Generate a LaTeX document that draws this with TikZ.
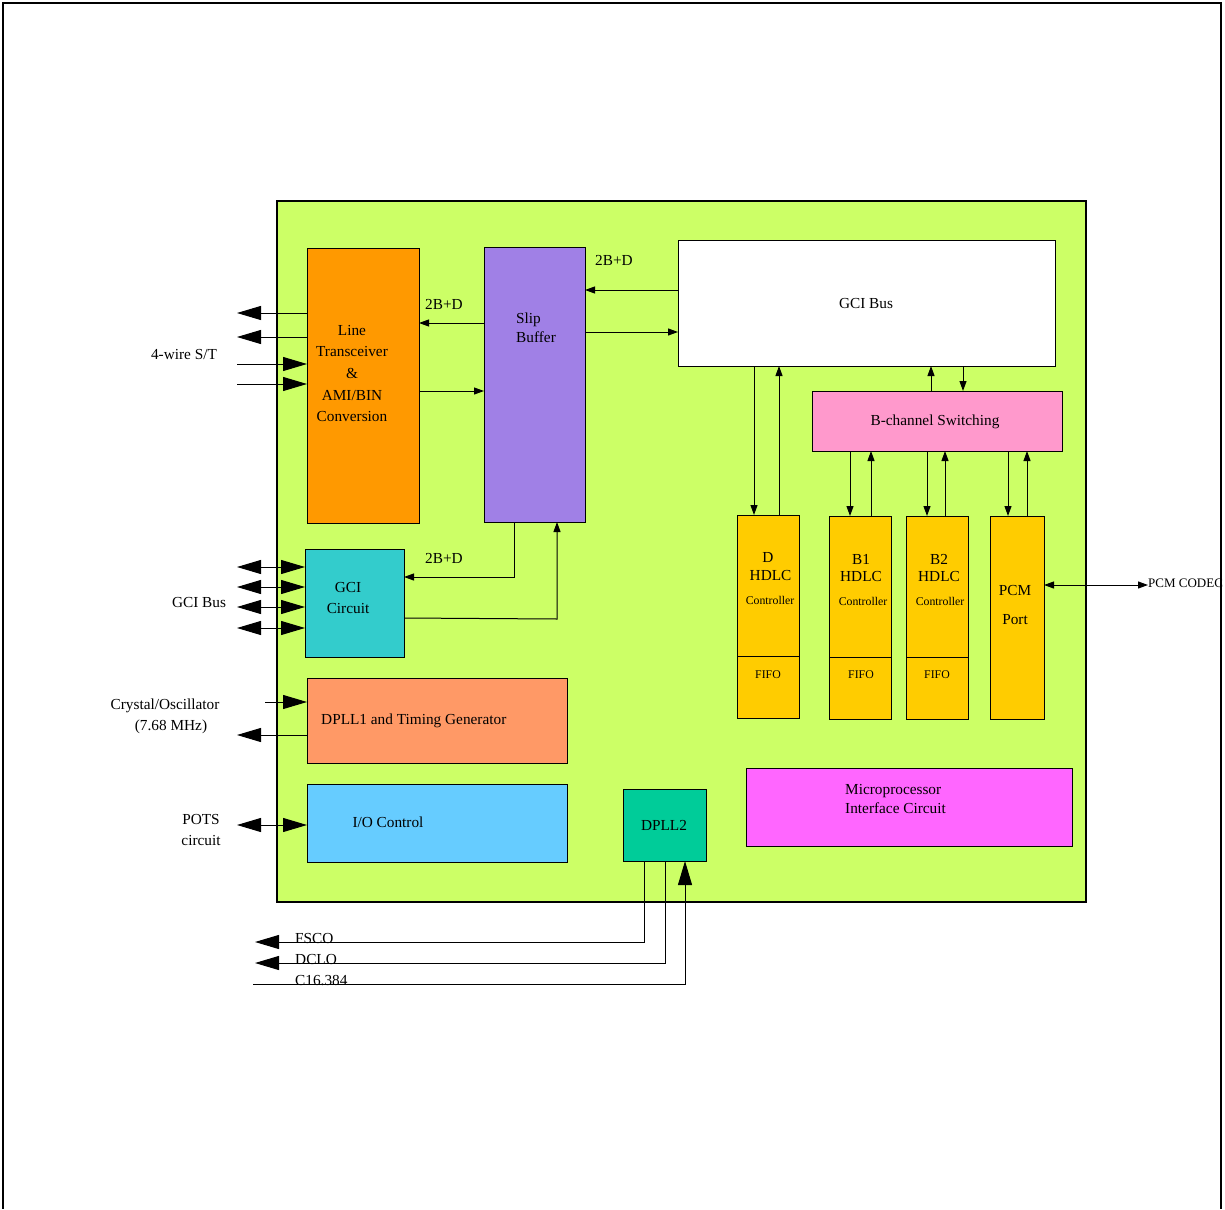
\documentclass[tikz,border=0pt]{standalone}
\usepackage{fontspec}
\setmainfont{Liberation Serif}
\usetikzlibrary{arrows.meta}
\definecolor{cgreen}{HTML}{CCFF66}
\definecolor{corange}{HTML}{FF9900}
\definecolor{cpurple}{HTML}{A080E6}
\definecolor{cpink}{HTML}{FF99CC}
\definecolor{cyellow}{HTML}{FFCC00}
\definecolor{cteal}{HTML}{33CCCC}
\definecolor{csalmon}{HTML}{FF9966}
\definecolor{cblue}{HTML}{66CCFF}
\definecolor{cdpll}{HTML}{00CC99}
\definecolor{cmag}{HTML}{FF66FF}
\tikzset{
  blk/.style={draw=black, line width=1pt, inner sep=0pt, outer sep=0pt, rectangle},
  txt/.style={inner sep=0pt, font=\fontsize{15.3}{21.7}\selectfont, align=center},
  stxt/.style={inner sep=0pt, font=\fontsize{11.8}{14}\selectfont, align=center},
  con/.style={line width=1pt},
  bigA/.style={-{Triangle[length=24pt,width=14pt]}},
  bigAB/.style={{Triangle[length=24pt,width=14pt]}-{Triangle[length=24pt,width=14pt]}},
  smA/.style={-{Triangle[length=10pt,width=7pt]}},
  smAB/.style={{Triangle[length=10pt,width=7pt]}-{Triangle[length=10pt,width=7pt]}},
}
\begin{document}
\begin{tikzpicture}[x=1pt,y=-1pt]
\useasboundingbox (0,0) rectangle (1225,1209);
% outer frame
\draw[line width=2.2pt] (2,3) -- (1222,3);
\draw[line width=1.3pt] (3,3) -- (3,1209);
\draw[line width=1.3pt] (1221,3) -- (1221,1209);
% chip
\node[blk, fill=cgreen, line width=1.3pt, minimum width=809pt, minimum height=701pt] (chip) at (681.5,551.5) {};
% blocks
\node[blk, fill=corange, minimum width=112pt, minimum height=275pt] (lt) at (363,385.5) {};
\node[blk, fill=cpurple, minimum width=101pt, minimum height=275pt] (sb) at (534.5,384.5) {};
\node[blk, fill=white, minimum width=377pt, minimum height=126pt] (gb) at (866.5,303) {};
\node[blk, fill=cpink, minimum width=250pt, minimum height=60pt] (bs) at (937,421) {};
\node[blk, fill=cyellow, minimum width=62pt, minimum height=203pt] (dh) at (768,616.5) {};
\node[blk, fill=cyellow, minimum width=62pt, minimum height=203pt] (b1) at (860,617.5) {};
\node[blk, fill=cyellow, minimum width=62pt, minimum height=203pt] (b2) at (937,617.5) {};
\node[blk, fill=cyellow, minimum width=54pt, minimum height=203pt] (pcm) at (1017,617.5) {};
\node[blk, fill=cteal, minimum width=99pt, minimum height=108pt] (gc) at (354.5,603) {};
\node[blk, fill=csalmon, minimum width=260pt, minimum height=85pt] (d1) at (437,720.5) {};
\node[blk, fill=cblue, minimum width=260pt, minimum height=78pt] (io) at (437,823) {};
\node[blk, fill=cdpll, minimum width=83pt, minimum height=72pt] (d2) at (664.5,825) {};
\node[blk, fill=cmag, minimum width=326pt, minimum height=78pt] (mp) at (909,807) {};
% FIFO dividers
\draw[con] (dh.west |- 0,656) -- (dh.east |- 0,656);
\draw[con] (b1.west |- 0,657) -- (b1.east |- 0,657);
\draw[con] (b2.west |- 0,657) -- (b2.east |- 0,657);
% texts in blocks
\node[txt] (tlt) at (352,373.5) {Line\\Transceiver\\\&\\AMI/BIN\\Conversion};
\node[txt, align=left, anchor=west, font=\fontsize{15.3}{19}\selectfont] (tsb) at (516,327.5) {Slip\\Buffer};
\node[txt] (tgb) at (866,304) {GCI Bus};
\node[txt] (tbs) at (935,422) {B-channel Switching};
\node[txt, font=\fontsize{15.3}{18}\selectfont] (tdh) at (768,567) {D\\\,\,HDLC};
\node[stxt] (tdhc) at (770,600) {Controller};
\node[stxt] (tdhf) at (768,675) {FIFO};
\node[txt, font=\fontsize{15.3}{17}\selectfont] (tb1) at (861,568.5) {B1\\HDLC};
\node[stxt] (tb1c) at (863,601) {Controller};
\node[stxt] (tb1f) at (861,675) {FIFO};
\node[txt, font=\fontsize{15.3}{17}\selectfont] (tb2) at (939,568.5) {B2\\HDLC};
\node[stxt] (tb2c) at (940,601) {Controller};
\node[stxt] (tb2f) at (937,675) {FIFO};
\node[txt, font=\fontsize{15.3}{29}\selectfont] (tpcm) at (1015,605.5) {PCM\\Port};
\node[txt] (tgc) at (348,598) {GCI\\Circuit};
\node[txt, anchor=west] (td1) at (321,721) {DPLL1 and Timing Generator};
\node[txt] (tio) at (388,822) {I/O Control};
\node[txt] (td2) at (664,825) {DPLL2};
\node[txt, align=left, anchor=west, font=\fontsize{15.3}{19}\selectfont] (tmp) at (845,798.5) {Microprocessor\\Interface Circuit};
% outside labels
\node[txt] (l4w) at (184,355) {4-wire S/T};
\node[txt] (lgci) at (199,603) {GCI Bus};
\node[txt] (lcr1) at (165,706) {Crystal/Oscillator};
\node[txt] (lcr2) at (171,727) {(7.68 MHz)};
\node[txt] (lpots) at (201,830) {POTS\\circuit};
\node[txt, anchor=west, font=\fontsize{13}{15}\selectfont] (lpcm) at (1148,583) {PCM CODEC};
\node[txt, anchor=base west] (lfs) at (295,943) {FSCO};
\node[txt, anchor=base west] (ldc) at (295,964) {DCLO};
\node[txt, anchor=base west] (lc16) at (295,985) {C16.384};
% 2B+D labels
\node[txt] (l2a) at (444,304) {2B+D};
\node[txt] (l2b) at (614,260) {2B+D};
\node[txt] (l2c) at (444,558) {2B+D};
% free-end coordinates
\coordinate (o1) at (237,313);
\coordinate (o2) at (237,337);
\coordinate (i1) at (237,364);
\coordinate (i2) at (237,384);
\coordinate (g1) at (237,567);
\coordinate (g2) at (237,587);
\coordinate (g3) at (237,607);
\coordinate (g4) at (237,628);
\coordinate (cx) at (265,702);
\coordinate (co) at (237,735);
\coordinate (po) at (237,825);
\coordinate (pc) at (1148,585);
\coordinate (fs) at (255,942);
\coordinate (dc) at (255,963);
\coordinate (c16) at (253,984);
% line transceiver IO
\draw[con,bigA] (lt.west |- o1) -- (o1);
\draw[con,bigA] (lt.west |- o2) -- (o2);
\draw[con,bigA] (i1) -- (lt.west |- i1);
\draw[con,bigA] (i2) -- (lt.west |- i2);
% line <-> slip
\draw[con,smA] (sb.west |- 0,323) -- (lt.east |- 0,323);
\draw[con,smA] (lt.east |- 0,391) -- (sb.west |- 0,391);
% slip <-> GCI bus
\draw[con,smA] (gb.west |- 0,290) -- (sb.east |- 0,290);
\draw[con,smA] (sb.east |- 0,332) -- (gb.west |- 0,332);
% GCI bus <-> D HDLC
\draw[con,smA] (gb.south -| 754,0) -- (dh.north -| 754,0);
\draw[con,smA] (dh.north -| 779,0) -- (gb.south -| 779,0);
% GCI bus <-> B switching
\draw[con,smA] (bs.north -| 931,0) -- (gb.south -| 931,0);
\draw[con,smA] (gb.south -| 963,0) -- (bs.north -| 963,0);
% B switching <-> B1, B2, PCM
\draw[con,smA] (bs.south -| 850,0) -- (b1.north -| 850,0);
\draw[con,smA] (b1.north -| 871,0) -- (bs.south -| 871,0);
\draw[con,smA] (bs.south -| 927,0) -- (b2.north -| 927,0);
\draw[con,smA] (b2.north -| 945,0) -- (bs.south -| 945,0);
\draw[con,smA] (bs.south -| 1008,0) -- (pcm.north -| 1008,0);
\draw[con,smA] (pcm.north -| 1027,0) -- (bs.south -| 1027,0);
% PCM codec
\draw[con,smAB] (pcm.east |- pc) -- (pc);
% GCI circuit external
\draw[con,bigAB] (g1) -- (gc.west |- g1);
\draw[con,bigAB] (g2) -- (gc.west |- g2);
\draw[con,bigAB] (g3) -- (gc.west |- g3);
\draw[con,bigAB] (g4) -- (gc.west |- g4);
% GCI circuit <-> slip
\draw[con,smA] (sb.south -| 514,0) |- (gc.east |- 0,577);
\draw[con,smA] (gc.east |- 0,618) -- (557,619) -- (sb.south -| 557,0);
% crystal
\draw[con,bigA] (cx) -- (d1.west |- cx);
\draw[con,bigA] (d1.west |- co) -- (co);
% POTS
\draw[con,bigAB] (po) -- (io.west |- po);
% DPLL2
\draw[con,bigA] (d2.south -| 644,0) |- (fs);
\draw[con,bigA] (d2.south -| 665,0) |- (dc);
\draw[con,bigA] (c16) -| (d2.south -| 685,0);
\end{tikzpicture}
\end{document}
